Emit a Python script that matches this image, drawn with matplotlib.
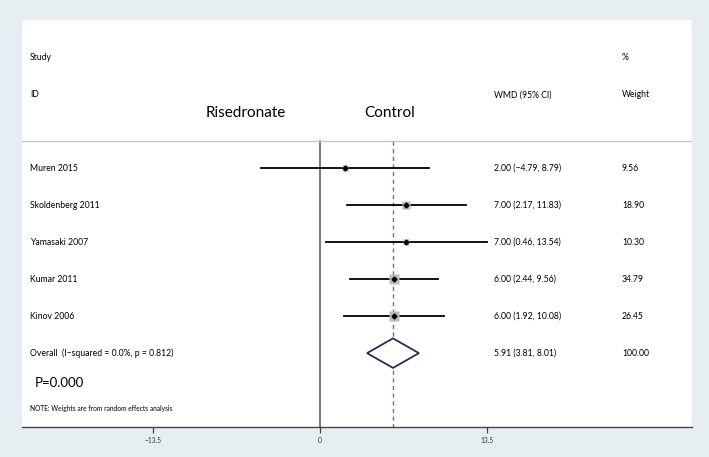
import numpy as np
import matplotlib.pyplot as plt
from matplotlib.ticker import FuncFormatter

studies = ['Muren 2015', 'Skoldenberg 2011', 'Yamasaki 2007', 'Kumar 2011', 'Kinov 2006']
wmd = [2.00, 7.00, 7.00, 6.00, 6.00]
ci_low = [-4.79, 2.17, 0.46, 2.44, 1.92]
ci_high = [8.79, 11.83, 13.54, 9.56, 10.08]
weights = [9.56, 18.90, 10.30, 34.79, 26.45]

overall_label = 'Overall  (I\u2212squared = 0.0%, p = 0.812)'
overall_wmd = 5.91
overall_low = 3.81
overall_high = 8.01
overall_weight = 100.00

xticks = [-13.5, 0, 13.5]

plt.rcParams['font.family'] = ['Lato', 'DejaVu Sans']

bg = '#e7eef1'
fig = plt.figure(figsize=(7.09, 4.57), dpi=100, facecolor=bg)
ax = fig.add_axes([22 / 709, 1 - 427 / 457, 670 / 709, 407 / 457])
ax.set_facecolor('white')

px = 12.35  # pixels per unit on x
xmin = (22 - 320) / px
xmax = (692 - 320) / px
ax.set_xlim(xmin, xmax)
ax.set_ylim(8.0, -3.02)

x_label = xmin + 8 / px
x_ci = xmin + 472 / px
x_wt = xmin + 600 / px
fs = 6.2

# header
ax.text(x_label, -2, 'Study', fontsize=fs, va='center')
ax.text(x_label, -1, 'ID', fontsize=fs, va='center')
ax.text(x_wt, -2, '%', fontsize=fs, va='center')
ax.text(x_wt, -1, 'Weight', fontsize=fs, va='center')
ax.text(x_ci, -1, 'WMD (95% CI)', fontsize=fs, va='center')
ax.text((246 - 320) / px, -0.5, 'Risedronate', fontsize=11, ha='center', va='center')
ax.text((390 - 320) / px, -0.5, 'Control', fontsize=11, ha='center', va='center')

ax.axhline(0.25, color='#c4c4c4', lw=0.9)
ax.plot([0, 0], [0.25, 8.0], color='#555555', lw=1.1, zorder=1)
ax.plot([overall_wmd, overall_wmd], [0.25, 8.0], color='#a0606e', lw=1.0,
        ls=(0, (3, 2.5)), zorder=1)

rows = np.arange(1, len(studies) + 1)
for i, y in enumerate(rows):
    ax.plot([ci_low[i], ci_high[i]], [y, y], color='black', lw=1.3, zorder=2)
    ax.plot(wmd[i], y, marker='s', ms=1.3 * np.sqrt(weights[i]), color='#bcbcbc',
            mec='none', zorder=3)
    ax.plot(wmd[i], y, marker='D', ms=2.5, color='black', zorder=4)
    ax.text(x_label, y, studies[i], fontsize=fs, va='center')
    ax.text(x_ci, y, '%.2f (%s, %.2f)' % (wmd[i], ('%.2f' % ci_low[i]).replace('-', '\u2212'), ci_high[i]),
            fontsize=fs, va='center')
    ax.text(x_wt, y, '%.2f' % weights[i], fontsize=fs, va='center')

yo = 6
ax.fill([overall_low, overall_wmd, overall_high, overall_wmd, overall_low],
        [yo, yo - 0.4, yo, yo + 0.4, yo], facecolor='white', edgecolor='#2a2a55',
        lw=1.3, zorder=3)
ax.text(x_label, yo, overall_label, fontsize=fs, va='center')
ax.text(x_ci, yo, '%.2f (%.2f, %.2f)' % (overall_wmd, overall_low, overall_high),
        fontsize=fs, va='center')
ax.text(x_wt, yo, '%.2f' % overall_weight, fontsize=fs, va='center')

ax.text(x_label + 5 / px, 6.82, 'P=0.000', fontsize=9.5, va='center')
ax.text(x_label, 7.5, 'NOTE: Weights are from random effects analysis', fontsize=4.8, va='center')

for s in ['top', 'right', 'left']:
    ax.spines[s].set_visible(False)
ax.spines['bottom'].set_color('#444444')
ax.spines['bottom'].set_linewidth(1.0)
ax.set_yticks([])
ax.set_xticks(xticks)
ax.xaxis.set_major_formatter(FuncFormatter(lambda v, p: ('%g' % v).replace('-', '\u2212')))
ax.tick_params(axis='x', length=4, width=0.9, color='#444444', labelsize=4.8,
               labelcolor='#333333', pad=3)

fig.savefig('out.png', dpi=100, facecolor=bg)
